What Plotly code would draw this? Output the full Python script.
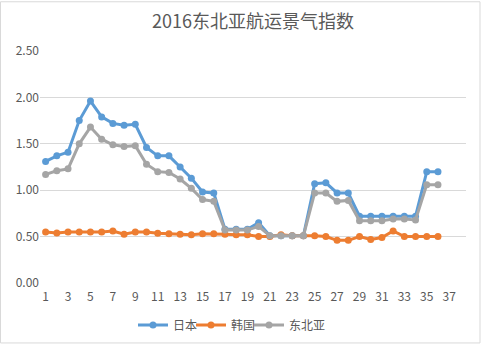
import plotly.graph_objects as go

categories = list(range(1, 37))
japan = [1.31, 1.37, 1.41, 1.75, 1.96, 1.79, 1.72, 1.70, 1.71, 1.46, 1.37, 1.37,
         1.25, 1.13, 0.98, 0.97, 0.58, 0.58, 0.58, 0.65, 0.51, 0.51, 0.51, 0.51,
         1.07, 1.08, 0.97, 0.97, 0.72, 0.72, 0.72, 0.72, 0.72, 0.72, 1.20, 1.20]
korea = [0.55, 0.54, 0.55, 0.55, 0.55, 0.55, 0.56, 0.525, 0.55, 0.55, 0.535, 0.53,
         0.525, 0.52, 0.53, 0.53, 0.525, 0.52, 0.52, 0.50, 0.50, 0.52, 0.51, 0.51,
         0.51, 0.50, 0.46, 0.46, 0.50, 0.47, 0.49, 0.56, 0.50, 0.50, 0.50, 0.50]
neasia = [1.17, 1.21, 1.23, 1.50, 1.68, 1.55, 1.49, 1.47, 1.48, 1.28, 1.20, 1.19,
          1.12, 1.02, 0.90, 0.88, 0.57, 0.57, 0.57, 0.61, 0.51, 0.51, 0.51, 0.51,
          0.97, 0.97, 0.88, 0.89, 0.67, 0.67, 0.67, 0.69, 0.69, 0.68, 1.06, 1.06]
names = ["日本", "韩国", "东北亚"]
colors = ["#5B9BD5", "#ED7D31", "#A5A5A5"]
xticks = list(range(1, 38, 2))
yticks = [0, 0.5, 1.0, 1.5, 2.0, 2.5]
ytext = ["0.00", "0.50", "1.00", "1.50", "2.00", "2.50"]

font = "Microsoft YaHei, Noto Sans CJK SC, sans-serif"

W, H = 481, 352
ml, mr, mt, mb = 40, 15, 51, 63
pw, ph = W - ml - mr, H - mt - mb

def px2paper_x(px):
    return (px - ml) / pw

def px2paper_y(py):
    return (H - mb - py) / ph

legend_ids = ["legend", "legend2", "legend3"]
legend_px = [133, 191, 249]

fig = go.Figure()
for name, vals, c, lid in zip(names, [japan, korea, neasia], colors, legend_ids):
    fig.add_trace(go.Scatter(
        x=categories, y=vals, name=name, mode="lines+markers",
        line=dict(color=c, width=3),
        marker=dict(color=c, size=7),
        hoverinfo="skip", legend=lid,
    ))

fig.add_shape(type="rect", xref="paper", yref="paper",
              x0=px2paper_x(0.5), x1=px2paper_x(480),
              y0=px2paper_y(350.5), y1=px2paper_y(0.5),
              line=dict(color="#D9D9D9", width=1), layer="below")

legend_layout = {}
for lid, lx in zip(legend_ids, legend_px):
    legend_layout[lid] = dict(orientation="h", x=px2paper_x(lx), xanchor="left",
                              y=px2paper_y(332), yanchor="middle",
                              font=dict(size=12, color="#595959"), itemwidth=30,
                              bgcolor="rgba(0,0,0,0)")

fig.update_layout(
    width=W, height=H,
    margin=dict(l=ml, r=mr, t=mt, b=mb),
    paper_bgcolor="white", plot_bgcolor="white",
    font=dict(family=font, color="#595959", size=12),
    title=dict(text="2016东北亚航运景气指数", x=0.5, xref="paper", xanchor="center",
               y=1 - 22 / H, yanchor="middle",
               font=dict(family=font, size=18, color="#595959")),
    xaxis=dict(range=[0.5, 38.5], tickvals=xticks, showgrid=False, zeroline=False,
               showline=False, ticks="", tickfont=dict(size=12, color="#595959"),
               ticklabelstandoff=5, fixedrange=True),
    yaxis=dict(range=[0, 2.5], tickvals=yticks, ticktext=ytext, showgrid=True,
               gridcolor="#D9D9D9", gridwidth=1, zeroline=False, showline=False,
               ticks="", tickfont=dict(size=12, color="#595959"), fixedrange=True),
    showlegend=True,
    **legend_layout,
)

fig.write_html("out.html")
